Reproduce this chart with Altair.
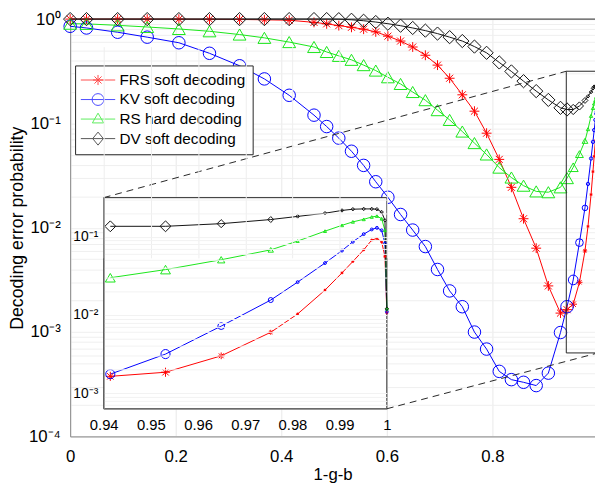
import altair as alt
import numpy as np
import pandas as pd

# ---------------- data ----------------
X = [0.0, 0.031, 0.090, 0.146, 0.206, 0.264, 0.321, 0.368, 0.415, 0.462,
     0.486, 0.509, 0.533, 0.556, 0.579, 0.602, 0.626, 0.649, 0.673, 0.696,
     0.719, 0.743, 0.766, 0.789, 0.813, 0.836, 0.859, 0.883, 0.906, 0.929,
     0.9414, 0.9531, 0.9649, 0.9754, 0.9811, 0.9869, 0.9905, 0.9928, 0.9951,
     0.9968, 0.9979, 0.9989, 0.9996, 1.0]

FRS = [1.0, 1.0, 1.0, 0.999, 0.998, 0.996, 0.992, 0.985, 0.975, 0.93,
       0.90, 0.866, 0.834, 0.80, 0.754, 0.686, 0.616, 0.54, 0.45, 0.362,
       0.271, 0.188, 0.131, 0.0806, 0.0452, 0.0244, 0.0122, 0.00637, 0.00277, 0.00152,
       0.00164, 0.00185, 0.0030, 0.0060, 0.0103, 0.0208, 0.0345, 0.0483, 0.068,
       0.0908, 0.095, 0.086, 0.056, 0.0106]

KV = [0.853, 0.822, 0.748, 0.671, 0.593, 0.470, 0.357, 0.267, 0.186, 0.120,
      0.0933, 0.0723, 0.0541, 0.0396, 0.0276, 0.0196, 0.0134, 0.0095, 0.0066, 0.00398,
      0.00248, 0.00175, 0.00100, 0.000687, 0.00042, 0.00035, 0.00033, 0.000307, 0.000404, 0.00099,
      0.00175, 0.00316, 0.0072, 0.0155, 0.0263, 0.0461, 0.0665, 0.0863, 0.108,
      0.124, 0.130, 0.121, 0.082, 0.011]

RS = [0.903, 0.90, 0.871, 0.84, 0.804, 0.764, 0.711, 0.661, 0.602, 0.54,
      0.484, 0.444, 0.407, 0.362, 0.321, 0.277, 0.239, 0.2, 0.167, 0.134,
      0.108, 0.0836, 0.0648, 0.0504, 0.0377, 0.0303, 0.0253, 0.0223, 0.0219, 0.0244,
      0.0299, 0.038, 0.0508, 0.068, 0.088, 0.118, 0.140, 0.155, 0.167,
      0.179, 0.184, 0.170, 0.121, 0.012]

DV = [1.0, 1.0, 1.0, 1.0, 1.0, 1.0, 1.0, 1.0, 1.0, 1.0,
      1.0, 0.998, 0.985, 0.964, 0.937, 0.903, 0.864, 0.822, 0.775, 0.726,
      0.671, 0.616, 0.545, 0.475, 0.384, 0.315, 0.254, 0.204, 0.168, 0.141,
      0.136, 0.136, 0.147, 0.166, 0.182, 0.2, 0.217, 0.225, 0.227,
      0.227, 0.225, 0.207, 0.162, 0.012]

SERIES = ["FRS soft decoding", "KV soft decoding", "RS hard decoding", "DV soft decoding"]
VALUES = [FRS, KV, RS, DV]
COLORS = ["#ff0000", "#0000ff", "#19e619", "#111111"]

X_TICKS = [0, 0.2, 0.4, 0.6, 0.8]
Y_MAJOR = [1, 0.1, 0.01, 0.001, 0.0001]
INSET_X_TICKS = [0.94, 0.95, 0.96, 0.97, 0.98, 0.99, 1.0]
INSET_Y_MAJOR = [0.1, 0.01, 0.001]
ZOOM_X = [0.94, 1.0]
ZOOM_Y = [10 ** -3.2, 10 ** -0.5]

# ---------------- layout / styles ----------------
W, H = 532, 423
PX_PER_X = 535.0
XMAX = W / PX_PER_X
DEC = H / 4.0
INK = "#262626"
FONT = "Liberation Sans"

# inset placement expressed in main-plot data coordinates
IN_X = [34 / PX_PER_X, 0.6]
IN_LOGY = [-395 / DEC, -181 / DEC]
L, R = IN_X[0] * PX_PER_X, IN_X[1] * PX_PER_X
B, T = -IN_LOGY[0] * DEC, -IN_LOGY[1] * DEC

ASTER = "M-1,0L1,0M0,-1L0,1M-0.71,-0.71L0.71,0.71M-0.71,0.71L0.71,-0.71"
MAIN_SHAPES = [ASTER, "circle", "triangle-up", "diamond"]
MAIN_BASE = [100, 160, 169, 180]
INSET_BASE = [85, 85, 100, 121]
LEG_PATHS = [
    "M-2.9,0L2.9,0M-0.85,0L0.85,0M0,-0.85L0,0.85M-0.6,-0.6L0.6,0.6M-0.6,0.6L0.6,-0.6",
    "M-2.9,0L2.9,0M1,0A1,1,0,1,1,-1,0A1,1,0,1,1,1,0",
    "M-2.9,0L2.9,0M0,-1L0.95,0.65L-0.95,0.65Z",
    "M-2.9,0L2.9,0M0,-1.1L0.9,0L0,1.1L-0.9,0Z",
]

xs = np.array(X)
main_fac = np.interp(xs, [0.9414, 0.9531, 0.9649, 0.9754, 0.9811], [1, 0.6, 0.38, 0.2, 0.07])
inset_fac = np.interp(xs, [0.9531, 0.9649, 0.9754, 0.9811], [1, 0.55, 0.3, 0.1])

frames = []
for i, (name, vals) in enumerate(zip(SERIES, VALUES)):
    frames.append(pd.DataFrame({
        "x": X, "y": vals, "series": name,
        "s_main": MAIN_BASE[i] * main_fac,
        "s_inset": INSET_BASE[i] * inset_fac,
    }))
df = pd.concat(frames, ignore_index=True)

# ---------------- main plot ----------------
minor = [k * 10.0 ** e for e in range(-4, 0) for k in range(2, 10)]
ylab = ("datum.value == 1 ? '10⁰' : datum.value == 0.1 ? '10⁻¹' : "
        "datum.value == 0.01 ? '10⁻²' : datum.value == 0.001 ? '10⁻³' : "
        "datum.value == 0.0001 ? '10⁻⁴' : ''")

mx = alt.X("x:Q", title="1-g-b",
           scale=alt.Scale(domain=[0, XMAX], nice=False, zero=False),
           axis=alt.Axis(orient="bottom", values=X_TICKS, format=".1~f", labelFlush=False,
                         labelFontSize=17, labelPadding=12, ticks=False, tickSize=0,
                         grid=True, gridColor="#e9e9e9",
                         titleFontSize=17, titleFontWeight="normal",
                         titleX=W / 2, titleY=39, titleBaseline="middle"))
my = alt.Y("y:Q", title="Decoding error probability",
           scale=alt.Scale(type="log", domain=[1e-4, 1], nice=False),
           axis=alt.Axis(orient="left", values=Y_MAJOR + minor, labelExpr=ylab, labelOverlap=False,
                         labelFontSize=17, labelPadding=10, ticks=False, tickSize=0,
                         grid=True, gridColor="#efefef",
                         titleFontSize=18, titleFontWeight="normal", titleAngle=270,
                         titleX=-53, titleY=H / 2, titleBaseline="middle",
                         titleAlign="center"))

base = alt.Chart(df)
main_layers = []
for i, name in enumerate(SERIES):
    sub = base.transform_filter(alt.datum.series == name)
    main_layers.append(sub.mark_line(color=COLORS[i], strokeWidth=1).encode(x=mx, y=my))
for i, name in enumerate(SERIES):
    sub = base.transform_filter(alt.datum.series == name)
    main_layers.append(
        sub.mark_point(shape=MAIN_SHAPES[i], filled=False, color=COLORS[i],
                       strokeWidth=1, opacity=1)
        .encode(x=mx, y=my, size=alt.Size("s_main:Q", scale=None)))

zoom_df = pd.DataFrame({"x": [ZOOM_X[0]], "x2": [ZOOM_X[1]],
                        "y": [ZOOM_Y[0]], "y2": [ZOOM_Y[1]]})
zoom_rect = alt.Chart(zoom_df).mark_rect(fill="transparent", stroke=INK, strokeWidth=1).encode(
    x=mx, x2="x2:Q", y=my, y2="y2:Q")

conn_df = pd.DataFrame({
    "x": [IN_X[0], IN_X[1]], "x2": [ZOOM_X[0], ZOOM_X[1]],
    "y": [10 ** IN_LOGY[1], 10 ** IN_LOGY[0]], "y2": [ZOOM_Y[1], ZOOM_Y[0]],
})
connectors = alt.Chart(conn_df).mark_rule(color=INK, strokeWidth=1, strokeDash=[7, 5]).encode(
    x=mx, x2="x2:Q", y=my, y2="y2:Q")

top_rule = alt.Chart(pd.DataFrame({"y": [1.0]})).mark_rule(color=INK, strokeWidth=1).encode(y=my)

legend = alt.Legend(title=None, orient="none", legendX=5, legendY=47, padding=7,
                    strokeColor=INK, fillColor="white", labelFont=FONT,
                    labelFontSize=15.5, labelColor="black", symbolSize=144,
                    symbolStrokeWidth=1, symbolOffset=8.5, labelOffset=14,
                    rowPadding=1.8, symbolFillColor="transparent")
leg_df = pd.DataFrame({"x": [-1.0] * 4, "y": [0.5] * 4, "series": SERIES})
legend_layer = alt.Chart(leg_df).mark_point(filled=False, strokeWidth=1, clip=True).encode(
    x=mx, y=my,
    color=alt.Color("series:N", scale=alt.Scale(domain=SERIES, range=COLORS), legend=legend),
    shape=alt.Shape("series:N", scale=alt.Scale(domain=SERIES, range=LEG_PATHS), legend=legend),
)

main = alt.layer(*main_layers, zoom_rect, connectors, top_rule, legend_layer)

# ---------------- inset ----------------
in_minor = [k * 10.0 ** e for e in range(-4, 0) for k in range(2, 10)
            if ZOOM_Y[0] <= k * 10.0 ** e <= ZOOM_Y[1]]
iylab = ("datum.value == 0.1 ? '10⁻¹' : datum.value == 0.01 ? '10⁻²' : "
         "datum.value == 0.001 ? '10⁻³' : ''")
ix = alt.X("x:Q", title=None,
           scale=alt.Scale(domain=ZOOM_X, range=[L, R], nice=False, zero=False),
           axis=alt.Axis(orient="bottom", values=INSET_X_TICKS, format=".2~f", labelFlush=False,
                         labelFontSize=15, labelPadding=9, ticks=False, tickSize=0,
                         offset=-(H - B), zindex=1, grid=True, gridColor="#eeeeee"))
iy = alt.Y("y:Q", title=None,
           scale=alt.Scale(type="log", domain=ZOOM_Y, range=[B, T], nice=False),
           axis=alt.Axis(orient="left", values=INSET_Y_MAJOR + in_minor, labelExpr=iylab,
                         labelOverlap=False, labelFontSize=14, labelPadding=6,
                         ticks=False, tickSize=0,
                         offset=-L, zindex=1, grid=True, gridColor="#f2f2f2"))

in_bg = alt.Chart(zoom_df).mark_rect(fill="white", stroke=INK, strokeWidth=1).encode(
    x=ix, x2="x2:Q", y=iy, y2="y2:Q")
inset_layers = [in_bg]
ibase = alt.Chart(df[df["x"] >= ZOOM_X[0]])
for i, name in enumerate(SERIES):
    sub = ibase.transform_filter(alt.datum.series == name)
    inset_layers.append(sub.mark_line(color=COLORS[i], strokeWidth=1).encode(x=ix, y=iy))
for i, name in enumerate(SERIES):
    sub = ibase.transform_filter(alt.datum.series == name)
    inset_layers.append(
        sub.mark_point(shape=MAIN_SHAPES[i], filled=False, color=COLORS[i],
                       strokeWidth=1, opacity=1)
        .encode(x=ix, y=iy, size=alt.Size("s_inset:Q", scale=None)))
inset = alt.layer(*inset_layers)

chart = (
    alt.layer(main, inset)
    .resolve_scale(x="independent", y="independent")
    .properties(width=W, height=H,
                padding={"left": 63, "top": 8, "right": 0, "bottom": 44},
                autosize=alt.AutoSizeParams(type="none"))
    .configure_view(stroke=None)
    .configure_axis(labelFont=FONT, titleFont=FONT, labelColor=INK, titleColor="black",
                    domainColor=INK, domainWidth=1)
    .configure(background="white")
)

chart.save("out.html", embed_options={"renderer": "svg", "actions": False})
